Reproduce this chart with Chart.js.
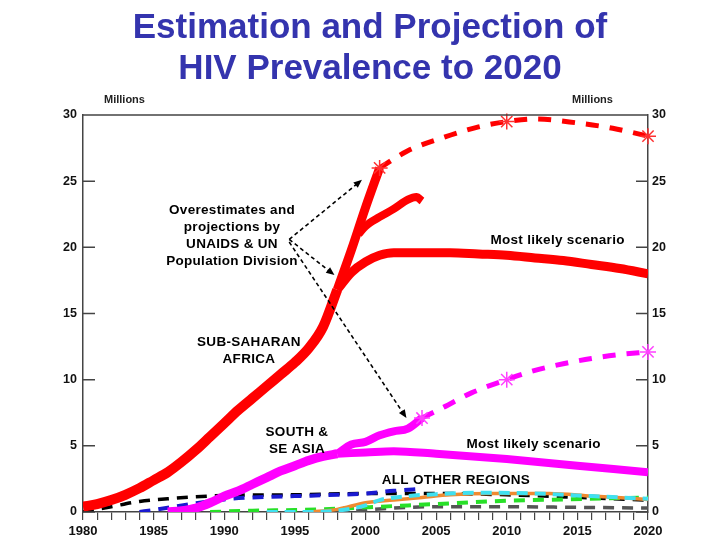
<!DOCTYPE html>
<html>
<head>
<meta charset="utf-8">
<script src="https://cdn.jsdelivr.net/npm/chart.js@4"></script>
<style>
  html, body { margin: 0; padding: 0; background: #fff; }
  #wrap { width: 720px; height: 540px; }
</style>
</head>
<body>
<div id="wrap"><canvas id="chart" width="720" height="540"></canvas></div>
<script>
// ---- data (millions) ----
const ssaYears = [1980, 1981, 1982, 1983, 1984, 1985, 1986, 1987, 1988, 1989, 1990, 1991, 1992, 1993, 1994, 1995, 1996, 1997, 1998];
const ssaValues = [0.4, 0.6, 0.9, 1.3, 1.8, 2.4, 3.0, 3.8, 4.7, 5.7, 6.7, 7.7, 8.6, 9.5, 10.4, 11.3, 12.4, 14.0, 16.8];
const ssaLikelyYears = [1998, 1999, 2000, 2001, 2002, 2004, 2006, 2008, 2010, 2012, 2014, 2016, 2018, 2020];
const ssaLikelyValues = [16.8, 18.1, 18.9, 19.4, 19.6, 19.6, 19.6, 19.5, 19.4, 19.2, 19.0, 18.7, 18.4, 18.0];
const ssaHighYears = [1998, 1999, 2000, 2001];
const ssaHighValues = [16.8, 19.8, 23.0, 26.0];
const ssaMidYears = [1999.5, 2000, 2001, 2002, 2003, 2003.6, 2004];
const ssaMidValues = [21.0, 21.6, 22.3, 22.9, 23.6, 23.8, 23.5];
const ssaProjYears = [2001, 2003, 2005.5, 2008, 2010, 2012, 2015, 2017.5, 2020];
const ssaProjValues = [26.0, 27.3, 28.3, 29.1, 29.5, 29.7, 29.4, 29.0, 28.4];
const ssaStarYears = [2001, 2010, 2020];

const asiaYears = [1986, 1987, 1988, 1989, 1990, 1991, 1992, 1993, 1994, 1995, 1996, 1997, 1998];
const asiaValues = [0.0, 0.1, 0.3, 0.7, 1.2, 1.6, 2.1, 2.6, 3.1, 3.5, 3.9, 4.2, 4.4];
const asiaHighYears = [1998, 1999, 2000, 2001, 2002, 2003, 2004];
const asiaHighValues = [4.4, 5.1, 5.3, 5.8, 6.1, 6.3, 7.1];
const asiaLikelyYears = [1998, 2000, 2002, 2005, 2010, 2015, 2020];
const asiaLikelyValues = [4.4, 4.5, 4.6, 4.4, 4.0, 3.5, 3.0];
const asiaProjYears = [2004, 2005.5, 2007.5, 2010, 2012, 2014, 2016, 2018, 2020];
const asiaProjValues = [7.1, 7.9, 9.0, 10.0, 10.7, 11.2, 11.6, 11.9, 12.1];
const asiaStarYears = [2004, 2010, 2020];

const blackYears = [1980, 1982, 1984, 1986, 1988, 1990, 1995, 2000, 2005, 2010, 2015, 2020];
const blackValues = [0.0, 0.4, 0.8, 1.0, 1.15, 1.25, 1.3, 1.4, 1.4, 1.3, 1.1, 0.9];
const blueYears = [1984, 1985, 1987, 1990, 1992, 1995, 1998, 2000, 2002, 2004];
const blueValues = [0.0, 0.15, 0.5, 0.95, 1.1, 1.2, 1.3, 1.4, 1.6, 1.75];
const cyanYears = [1993, 1996, 1998, 2000, 2001, 2003, 2005, 2008, 2012, 2016, 2020];
const cyanValues = [0.0, 0.0, 0.1, 0.5, 0.9, 1.2, 1.35, 1.45, 1.4, 1.2, 1.0];
const orangeYears = [1996, 1998, 2000, 2002, 2004, 2006, 2009, 2013, 2016, 2020];
const orangeValues = [0.0, 0.2, 0.7, 0.9, 1.1, 1.3, 1.4, 1.4, 1.2, 0.95];
const greenYears = [1989, 1992, 1995, 1998, 2000, 2003, 2006, 2010, 2014, 2020];
const greenValues = [0.0, 0.1, 0.15, 0.25, 0.35, 0.5, 0.65, 0.85, 0.95, 1.1];
const grayYears = [1998, 2002, 2005, 2010, 2015, 2020];
const grayValues = [0.0, 0.3, 0.4, 0.4, 0.35, 0.3];

const yTicks = [0, 5, 10, 15, 20, 25, 30];
const xLabelYears = [1980, 1985, 1990, 1995, 2000, 2005, 2010, 2015, 2020];

// annotation texts: [lines, year, value]
const notes = [
  [["Overestimates and", "projections by", "UNAIDS & UN", "Population Division"], 1990.55, 22.8],
  [["Most likely scenario"], 2013.6, 20.55],
  [["SUB-SAHARAN", "AFRICA"], 1991.75, 12.85],
  [["SOUTH &", "SE ASIA"], 1995.15, 6.05],
  [["Most likely scenario"], 2011.9, 5.14],
  [["ALL OTHER REGIONS"], 2006.4, 2.42]
];
// dashed arrows: [fromYear, fromValue, toYear, toValue]
const arrows = [
  [1994.6, 20.6, 1999.75, 25.1],
  [1994.6, 20.6, 1997.8, 17.9],
  [1994.6, 20.4, 2002.9, 7.1]
];

const pts = (xs, ys) => xs.map((x, i) => ({ x: x, y: ys[i] }));
const starPts = (xs, ys, stars) => pts(xs, ys).filter(p => stars.includes(p.x));

function line(data, color, width, dash, extra) {
  return Object.assign({
    data: data, borderColor: color, backgroundColor: color, borderWidth: width,
    borderDash: dash || [], pointRadius: 0, tension: 0.35, cubicInterpolationMode: 'monotone',
    fill: false, borderCapStyle: 'butt', borderJoinStyle: 'round'
  }, extra || {});
}

const FONT = '"Liberation Sans", Arial, sans-serif';

const decor = {
  id: 'decor',
  afterDraw(chart) {
    const { ctx, chartArea: a, scales: { x, y } } = chart;
    ctx.save();
    // title
    ctx.fillStyle = '#3434ae';
    ctx.font = 'bold 35px ' + FONT;
    ctx.textAlign = 'center';
    ctx.textBaseline = 'alphabetic';
    ctx.fillText('Estimation and Projection of', 370, 38);
    ctx.fillText('HIV Prevalence to 2020', 370, 79);
    // Millions
    ctx.fillStyle = '#222';
    ctx.font = 'bold 11px ' + FONT;
    ctx.textAlign = 'left';
    ctx.textBaseline = 'middle';
    ctx.fillText('Millions', a.left + 21, 100);
    ctx.fillText('Millions', a.right - 76, 100);
    // frame top + inward y ticks
    ctx.strokeStyle = '#444';
    ctx.lineWidth = 1.5;
    ctx.beginPath();
    ctx.moveTo(a.left, a.top); ctx.lineTo(a.right, a.top);
    yTicks.forEach(v => {
      const py = y.getPixelForValue(v);
      ctx.moveTo(a.left, py); ctx.lineTo(a.left + 12, py);
      ctx.moveTo(a.right, py); ctx.lineTo(a.right - 12, py);
    });
    ctx.stroke();
    // arrows
    ctx.strokeStyle = '#000';
    ctx.fillStyle = '#000';
    ctx.lineWidth = 1.6;
    arrows.forEach(([x0, y0, x1, y1]) => {
      const px0 = x.getPixelForValue(x0), py0 = y.getPixelForValue(y0);
      const px1 = x.getPixelForValue(x1), py1 = y.getPixelForValue(y1);
      const ang = Math.atan2(py1 - py0, px1 - px0);
      ctx.setLineDash([4, 3]);
      ctx.beginPath();
      ctx.moveTo(px0, py0);
      ctx.lineTo(px1 - 6 * Math.cos(ang), py1 - 6 * Math.sin(ang));
      ctx.stroke();
      ctx.setLineDash([]);
      ctx.beginPath();
      ctx.moveTo(px1, py1);
      ctx.lineTo(px1 - 9 * Math.cos(ang - 0.4), py1 - 9 * Math.sin(ang - 0.4));
      ctx.lineTo(px1 - 9 * Math.cos(ang + 0.4), py1 - 9 * Math.sin(ang + 0.4));
      ctx.closePath();
      ctx.fill();
    });
    // notes
    ctx.fillStyle = '#000';
    ctx.font = 'bold 13.5px ' + FONT;
    ctx.letterSpacing = '0.3px';
    ctx.textAlign = 'center';
    ctx.textBaseline = 'middle';
    notes.forEach(([lines, nx, ny]) => {
      const px = x.getPixelForValue(nx), py = y.getPixelForValue(ny);
      lines.forEach((t, i) => ctx.fillText(t, px, py + i * 17));
    });
    ctx.restore();
  }
};

new Chart(document.getElementById('chart'), {
  type: 'line',
  data: {
    datasets: [
      line(starPts(ssaProjYears, ssaProjValues, ssaStarYears), '#ff2020', 1.5, [], {
        showLine: false, clip: false, pointStyle: 'star', pointRadius: 8, pointBorderWidth: 1.5, pointBorderColor: '#ff3030' }),
      line(starPts(asiaProjYears, asiaProjValues, asiaStarYears), '#ff30ff', 1.5, [], {
        showLine: false, clip: false, pointStyle: 'star', pointRadius: 8, pointBorderWidth: 1.5, pointBorderColor: '#ff40ff' }),
      line(pts(ssaYears, ssaValues), '#ff0000', 10),
      line(pts(ssaLikelyYears, ssaLikelyValues), '#ff0000', 9),
      line(pts(ssaHighYears, ssaHighValues), '#ff0000', 9),
      line(pts(ssaMidYears, ssaMidValues), '#ff0000', 8),
      line(pts(ssaProjYears, ssaProjValues), '#ff0000', 5, [13, 11]),
      line(pts(asiaYears, asiaValues), '#ff00ff', 9),
      line(pts(asiaHighYears, asiaHighValues), '#ff00ff', 8),
      line(pts(asiaLikelyYears, asiaLikelyValues), '#ff00ff', 8),
      line(pts(asiaProjYears, asiaProjValues), '#ff00ff', 5, [13, 11]),
      line(pts(cyanYears, cyanValues), '#40e0f0', 4, [11, 7]),
      line(pts(orangeYears, orangeValues), '#f08a30', 3.5),
      line(pts(greenYears, greenValues), '#28e028', 4, [11, 8]),
      line(pts(blueYears, blueValues), '#1a1ad0', 4, [11, 8]),
      line(pts(blackYears, blackValues), '#000000', 3.5, [11, 8]),
      line(pts(grayYears, grayValues), '#555555', 3.5, [11, 8])
    ]
  },
  options: {
    responsive: false,
    animation: false,
    events: [],
    layout: { padding: { top: 115, left: 0, right: 0, bottom: 0 } },
    plugins: { legend: { display: false }, tooltip: { enabled: false }, title: { display: false } },
    scales: {
      x: {
        type: 'linear', min: 1980, max: 2020,
        afterFit: s => { s.height = 28; },
        grid: { drawOnChartArea: false, drawTicks: true, tickLength: 8, color: '#444', lineWidth: 1.2 },
        border: { display: true, color: '#444', width: 1.5 },
        ticks: {
          stepSize: 1, autoSkip: false, maxRotation: 0, padding: 4, color: '#111',
          font: { family: FONT, size: 13, weight: 'bold' },
          callback: v => xLabelYears.includes(v) ? String(v) : ''
        }
      },
      y: {
        position: 'left', min: 0, max: 30,
        afterFit: s => { s.width = 83; },
        grid: { drawOnChartArea: false, drawTicks: false },
        border: { display: true, color: '#444', width: 1.5 },
        ticks: { stepSize: 5, padding: 6, color: '#111', font: { family: FONT, size: 12.5, weight: 'bold' } }
      },
      y2: {
        position: 'right', min: 0, max: 30,
        afterFit: s => { s.width = 72; },
        grid: { drawOnChartArea: false, drawTicks: false },
        border: { display: true, color: '#444', width: 1.5 },
        ticks: { stepSize: 5, padding: 4, color: '#111', font: { family: FONT, size: 12.5, weight: 'bold' } }
      }
    }
  },
  plugins: [decor]
});
</script>
</body>
</html>
